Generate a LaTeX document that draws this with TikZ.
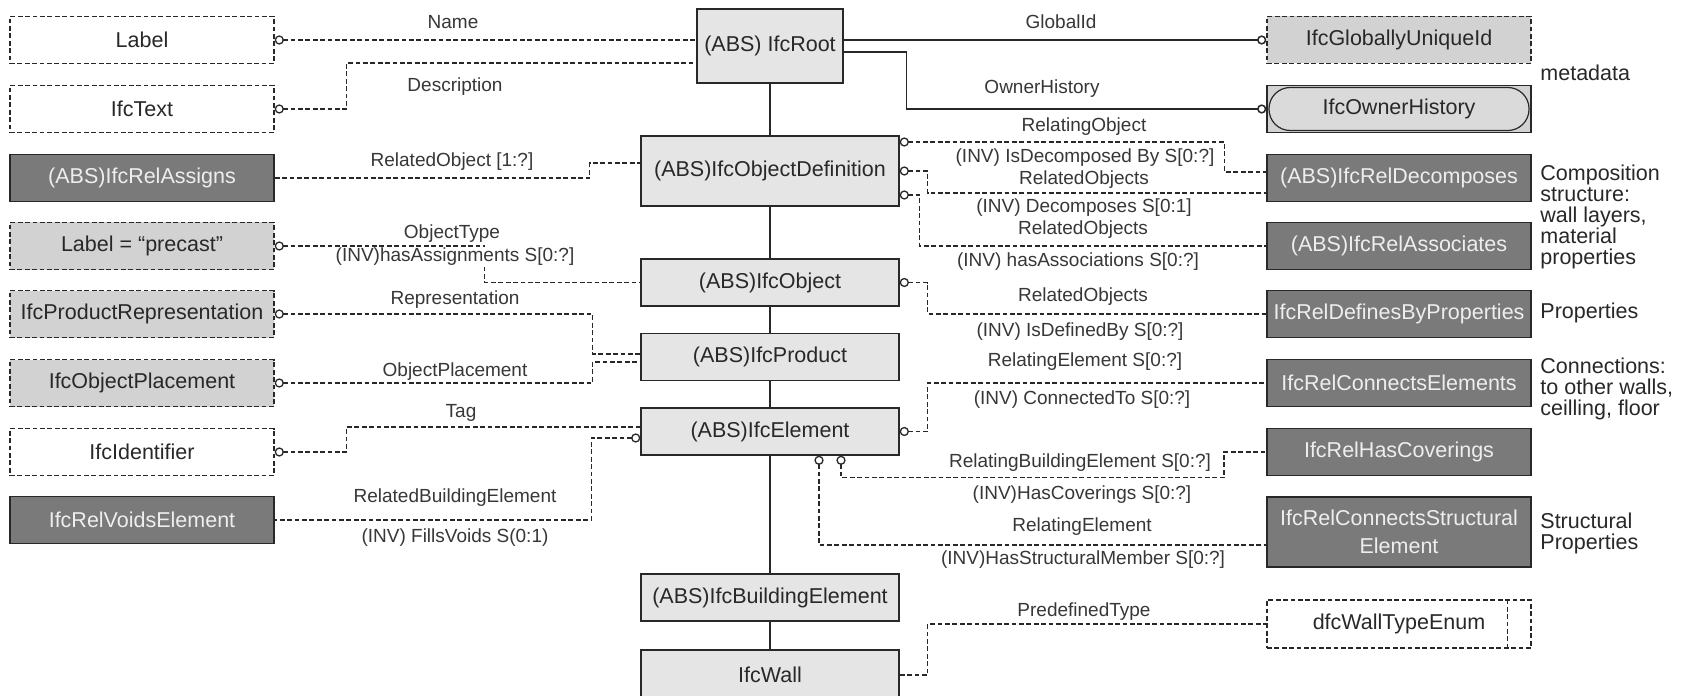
\documentclass[tikz,border=0pt]{standalone}
\usepackage{fontspec}
\setmainfont{Liberation Sans}
\usetikzlibrary{arrows.meta}

\definecolor{ink}{RGB}{40,40,40}
\definecolor{lblink}{RGB}{55,55,55}
\definecolor{clsfill}{RGB}{229,229,229}
\definecolor{typfill}{RGB}{210,210,210}
\definecolor{stadfill}{RGB}{218,218,218}
\definecolor{relfill}{RGB}{122,122,122}
\definecolor{reltext}{RGB}{238,238,238}

\begin{document}
\begin{tikzpicture}[x=0.5pt,y=-0.5pt,
  ring/.tip={Circle[open,length=4.6pt,width=4.6pt]},
  dashpat/.style={dash pattern=on 2.4pt off 1.3pt},
  box/.style={draw=ink,line width=0.7pt,inner sep=1pt,text=ink,align=center,
    font=\fontsize{10.75pt}{14pt}\selectfont,minimum height=23.5pt,minimum width=132pt},
  clsbox/.style={box,fill=clsfill,minimum width=129pt},
  relbox/.style={box,fill=relfill,text=reltext},
  refbox/.style={box,dashpat,fill=white},
  typbox/.style={box,dashpat,fill=typfill},
  ownerbox/.style={box,fill=typfill,
    path picture={\draw[ink,line width=0.6pt,fill=stadfill,rounded corners=10.6pt]
      ([shift={(1pt,-1pt)}]path picture bounding box.north west) rectangle
      ([shift={(-1pt,1pt)}]path picture bounding box.south east);}},
  conn/.style={draw=ink,line width=0.65pt,dashpat},
  solidconn/.style={draw=ink,line width=0.75pt},
  lbl/.style={font=\fontsize{9.5pt}{11pt}\selectfont,text=lblink,inner sep=0.6pt},
  side/.style={font=\fontsize{10.75pt}{10.5pt}\selectfont,text=ink,align=left,anchor=west,inner sep=0pt}
]
\useasboundingbox (0,0) rectangle (1684,695);
\fill[white] (0,0) rectangle (1684,695);

% inheritance spine
\node[clsbox,minimum width=73pt,minimum height=37pt] (root) at (770,46) {(ABS) IfcRoot};
\node[clsbox,minimum height=35pt] (objdef) at (770,171) {(ABS)IfcObjectDefinition};
\node[clsbox] (obj) at (770,282.5) {(ABS)IfcObject};
\node[clsbox] (prod) at (770,357) {(ABS)IfcProduct};
\node[clsbox] (elem) at (770,431.5) {(ABS)IfcElement};
\node[clsbox] (bldg) at (770,597.5) {(ABS)IfcBuildingElement};
\node[clsbox,minimum height=25pt] (wall) at (770,675) {IfcWall};

% attribute types on the left
\node[refbox] (lab) at (142,40) {Label};
\node[refbox] (txt) at (142,109) {IfcText};
\node[relbox] (rassign) at (142,178) {(ABS)IfcRelAssigns};
\node[typbox] (precast) at (142,246) {Label = “precast”};
\node[typbox] (prep) at (142,314) {IfcProductRepresentation};
\node[typbox] (oplace) at (142,383) {IfcObjectPlacement};
\node[refbox] (ident) at (142,452) {IfcIdentifier};
\node[relbox] (rvoid) at (142,520) {IfcRelVoidsElement};

% attribute types and relationships on the right
\node[typbox] (guid) at (1399,40) {IfcGloballyUniqueId};
\node[ownerbox] (owner) at (1399,109) {IfcOwnerHistory};
\node[relbox] (decomp) at (1399,178) {(ABS)IfcRelDecomposes};
\node[relbox] (assoc) at (1399,246) {(ABS)IfcRelAssociates};
\node[relbox] (defprop) at (1399,314) {IfcRelDefinesByProperties};
\node[relbox] (connel) at (1399,383) {IfcRelConnectsElements};
\node[relbox] (cover) at (1399,452) {IfcRelHasCoverings};
\node[relbox,minimum height=35pt] (struct) at (1399,532) {IfcRelConnectsStructural\\Element};
\node[refbox,minimum height=24pt] (wenum) at (1399,624) {dfcWallTypeEnum};
\draw[ink,line width=0.7pt,dashpat] ([xshift=-12pt]wenum.north east) -- ([xshift=-12pt]wenum.south east);

% spine
\draw[solidconn] (root) -- (objdef) -- (obj) -- (prod) -- (elem) -- (bldg) -- (wall);

% left connectors
\draw[conn,ring-] (lab.east) -- (lab.east -| root.west);
\draw[conn,ring-] (txt.east) -- ++(72,0) |- ([yshift=-8.5pt]root.west);
\draw[conn] (rassign.east) -- ++(315,0) |- ([yshift=4pt]objdef.west);
\draw[conn,ring-] (precast.east) -- ++(210,0) |- (obj.west);
\draw[conn,ring-] (prep.east) -- ++(318,0) |- ([yshift=1.5pt]prod.west);
\draw[conn,ring-] (oplace.east) -- ++(318,0) |- ([yshift=-2.5pt]prod.west);
\draw[conn,ring-] (ident.east) -- ++(72,0) |- ([yshift=2.25pt]elem.west);
\draw[conn,ring-] ([yshift=-3.25pt]elem.west) -- ++(-49,0) |- (rvoid.east);

% right connectors
\draw[solidconn,-ring] ([yshift=3pt]root.east) -- (guid.west);
\draw[solidconn,-ring] ([yshift=-3pt]root.east) -- ++(63,0) |- (owner.west);
\draw[conn,ring-] ([yshift=14.5pt]objdef.east) -- ++(325,0) |- ([yshift=3pt]decomp.west);
\draw[conn,ring-] (objdef.east) -- ++(28,0) |- ([yshift=-7.5pt]decomp.west);
\draw[conn,ring-] ([yshift=-12pt]objdef.east) -- ++(20,0) |- (assoc.west);
\draw[conn,ring-] (obj.east) -- ++(28,0) |- (defprop.west);
\draw[conn,ring-] (elem.east) -- ++(28,0) |- (connel.west);
\draw[conn,ring-] ([xshift=35.5pt]elem.south) -- ++(0,22) -- ++(383,0) |- (cover.west);
\draw[conn,ring-] ([xshift=24.5pt]elem.south) |- ([yshift=-6.5pt]struct.west);
\draw[conn] (wall.east) -- ++(28,0) |- (wenum.west);

% attribute names, left
\node[lbl] (tName) at (453,22) {Name};
\node[lbl] (tDesc) at (455,87) {Description};
\node[lbl] (tRelObj) at (452,162) {RelatedObject [1:?]};
\node[lbl] (tObjType) at (452,234) {ObjectType};
\node[lbl,fill=white] (tHasAss) at (455,257) {(INV)hasAssignments S[0:?]};
\node[lbl] (tRepr) at (455,300) {Representation};
\node[lbl] (tPlace) at (455,372) {ObjectPlacement};
\node[lbl] (tTag) at (461,413) {Tag};
\node[lbl] (tRelBE) at (455,498) {RelatedBuildingElement};
\node[lbl] (tFills) at (455,538) {(INV) FillsVoids S(0:1)};

% attribute names, right
\node[lbl] (tGid) at (1061,22) {GlobalId};
\node[lbl] (tOwner) at (1042,89) {OwnerHistory};
\node[lbl] (tRelating) at (1084,127) {RelatingObject};
\node[lbl] (tIsDec) at (1085,158) {(INV) IsDecomposed By S[0:?]};
\node[lbl] (tRelObjsA) at (1084,180) {RelatedObjects};
\node[lbl] (tDecomp) at (1084,208) {(INV) Decomposes S[0:1]};
\node[lbl] (tRelObjsB) at (1083,230) {RelatedObjects};
\node[lbl] (tHasAssoc) at (1078,262) {(INV) hasAssociations S[0:?]};
\node[lbl] (tRelObjsC) at (1083,297) {RelatedObjects};
\node[lbl] (tDefBy) at (1080,332) {(INV) IsDefinedBy S[0:?]};
\node[lbl] (tRelElS) at (1085,362) {RelatingElement S[0:?]};
\node[lbl] (tConnTo) at (1082,400) {(INV) ConnectedTo S[0:?]};
\node[lbl] (tRelBldg) at (1080,463) {RelatingBuildingElement S[0:?]};
\node[lbl] (tHasCov) at (1082,495) {(INV)HasCoverings S[0:?]};
\node[lbl] (tRelEl) at (1082,527) {RelatingElement};
\node[lbl] (tHasStr) at (1083,560) {(INV)HasStructuralMember S[0:?]};
\node[lbl] (tPredef) at (1084,612) {PredefinedType};

% group notes
\node[side] (nMeta) at (1540,73) {metadata};
\node[side] (nCompo) at (1540,217) {Composition\\structure:\\wall layers,\\material\\properties};
\node[side] (nProps) at (1540,313) {Properties};
\node[side] (nConns) at (1540,389) {Connections:\\to other walls,\\ceilling, floor};
\node[side] (nStruct) at (1540,533) {Structural\\Properties};
\end{tikzpicture}
\end{document}
